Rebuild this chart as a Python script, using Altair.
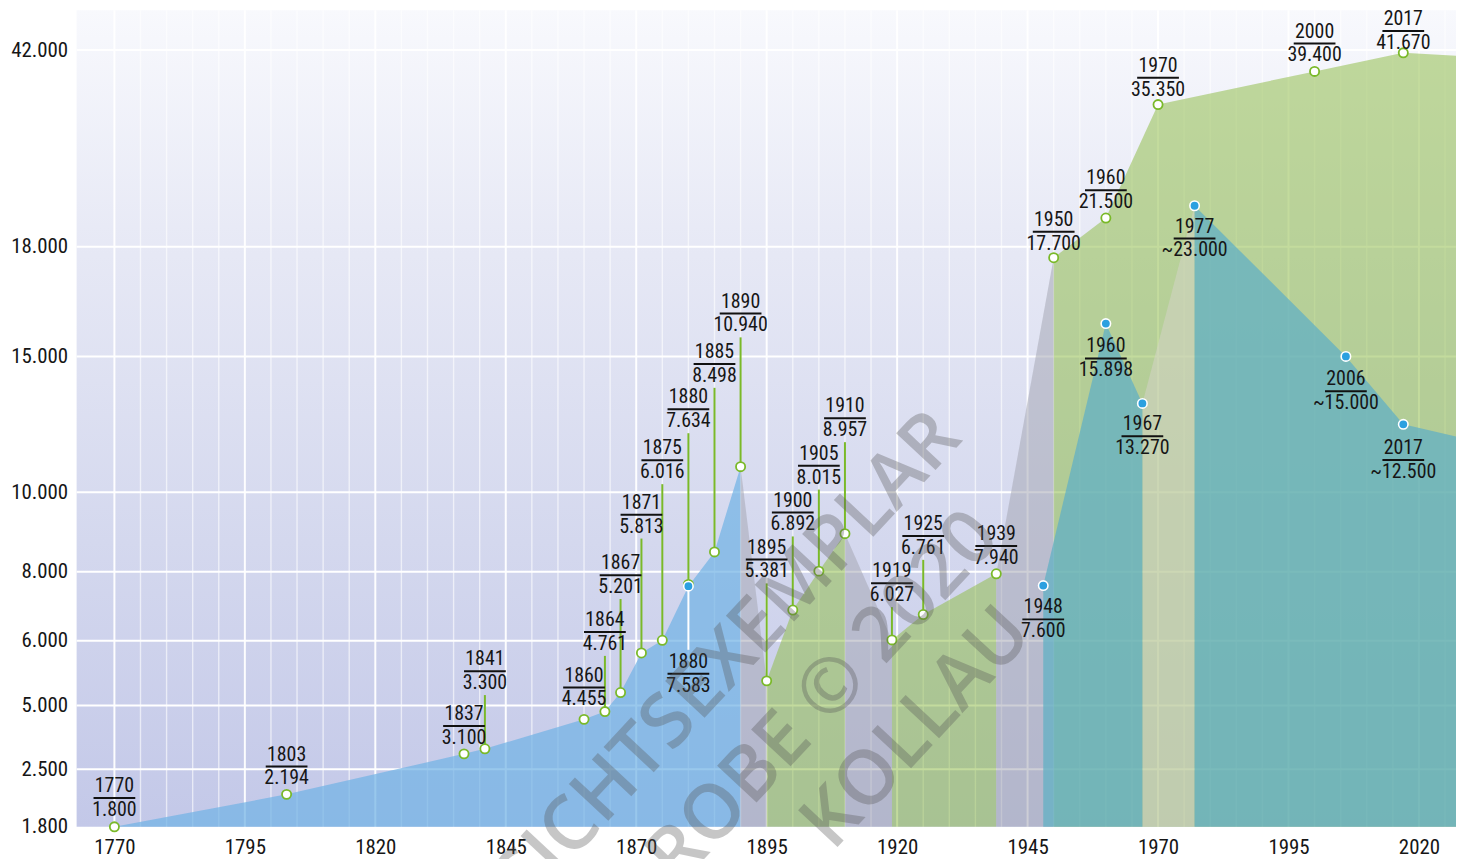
import altair as alt
import numpy as np
import pandas as pd

# ------------------------------------------------------------------ data
# population of the whole (growing) territory - green labelled points
G_YEARS = [1770, 1803, 1837, 1841, 1860, 1864, 1867, 1871, 1875, 1880, 1885, 1890,
           1895, 1900, 1905, 1910, 1919, 1925, 1939, 1950, 1960, 1970, 2000, 2017]
G_VALUES = [1800, 2194, 3100, 3300, 4455, 4761, 5201, 5813, 6016, 7634, 8498, 10940,
            5381, 6892, 8015, 8957, 6027, 6761, 7940, 17700, 21500, 35350, 39400, 41670]

# core town - blue labelled points
B_YEARS = [1880, 1948, 1960, 1967, 1977, 2006, 2017]
B_VALUES = [7583, 7600, 15898, 13270, 23000, 15000, 12500]
B_APPROX = [False, False, False, False, True, True, True]

# filled phases (last point = right edge of the chart)
EDGE_YEAR = 2027.1
BLUE_SEGMENTS = [([1770, 1803, 1837, 1841, 1860, 1864, 1867, 1871, 1875, 1880, 1885, 1890],
                  [1800, 2194, 3100, 3300, 4455, 4761, 5201, 5813, 6016, 7583, 8498, 10940])]
GREEN_SEGMENTS = [([1895, 1900, 1905, 1910], [5381, 6892, 8015, 8957]),
                  ([1919, 1925, 1939], [6027, 6761, 7940]),
                  ([1950, 1960, 1970, 2000, 2017, EDGE_YEAR], [17700, 21500, 35350, 39400, 41670, 41300])]
GRAY_SEGMENTS = [([1890, 1895], [10940, 5381]),
                 ([1910, 1919], [8957, 6027]),
                 ([1939, 1950], [7940, 17700])]
GRAY_LIGHT_SEGMENTS = [([1967, 1977], [13270, 23000])]
TEAL_SEGMENTS = [([1948, 1960, 1967], [7600, 15898, 13270]),
                 ([1977, 2006, 2017, EDGE_YEAR], [23000, 15000, 12500, 12050])]

Y_TICKS = [1800, 2500, 5000, 6000, 8000, 10000, 15000, 18000, 42000]
X_TICKS = [1770, 1795, 1820, 1845, 1870, 1895, 1920, 1945, 1970, 1995, 2020]
GRID_MAJOR = [1770, 1795, 1820, 1845, 1870, 1895, 1920, 1945, 1970, 1995, 2020]
GRID_MINOR = [y for y in range(1770, 2030, 5) if y not in GRID_MAJOR]

WATERMARK = ["ANSICHTSEXEMPLAR", "PROBE © 2020", "KOLLAU"]

# ------------------------------------------------------------------ layout
W, H = 1387, 821
PAD = {"left": 69, "top": 0, "right": 0, "bottom": 30}
X_DOMAIN = [1762.76, EDGE_YEAR]
# piecewise (broken) value axis as in the original
Y_DOMAIN = [1800, 2500, 5000, 6000, 8000, 10000, 15000, 18000, 42000, 46850]
Y_RANGE = [821, 763, 699, 634, 564.5, 484.5, 348, 237.7, 40, 0]

# label placement in pixels (green: value text above point, blue: year text below point)
G_LIFT = [17, 16, 16, 66, 20, 68, 106, 127, 169, 164, 177, 142,
          110, 86, 94, 104, 45, 67, 16, 14, 16, 15, 16, 10]
B_DROP = [76, 22, 23, 21, 21, 23, 24]
WM_POS = [(618, 692), (735, 708), (845, 722)]

FONT = "Liberation Sans Narrow, Roboto Condensed, DejaVu Sans Condensed, Arial Narrow, sans-serif"
TXT = "#161616"
GREEN_LINE = "#7ab929"
BLUE_DOT = "#2ba0e0"


def ypx(v):
    return float(np.interp(v, Y_DOMAIN, Y_RANGE))


def yval(px):
    return float(np.interp(px, Y_RANGE[::-1], Y_DOMAIN[::-1]))


def fmt(v):
    return f"{v:,}".replace(",", ".")


g_rows = []
for yr, v, lift in zip(G_YEARS, G_VALUES, G_LIFT):
    p = ypx(v)
    vc = p - lift
    g_rows.append(dict(year=yr, value=v, ytxt=str(yr), vtxt=fmt(v),
                       val_y=yval(vc), year_y=yval(vc - 24), ul_y=yval(vc - 12),
                       lead_y=yval(vc + 12), lead=lift > 28, x0=yr - 4, x1=yr + 4))
g_df = pd.DataFrame(g_rows)

b_rows = []
for yr, v, drop, apx in zip(B_YEARS, B_VALUES, B_DROP, B_APPROX):
    p = ypx(v)
    yc = p + drop
    b_rows.append(dict(year=yr, value=v, ytxt=str(yr), vtxt=("~" if apx else "") + fmt(v),
                       year_y=yval(yc), ul_y=yval(yc + 12), val_y=yval(yc + 24),
                       lead_y=yval(yc - 12), lead=drop > 40, x0=yr - 4, x1=yr + 4))
b_df = pd.DataFrame(b_rows)


def seg_df(segs):
    rows = []
    for i, (ys, vs) in enumerate(segs):
        for y, v in zip(ys, vs):
            rows.append(dict(seg=i, year=y, value=v))
    return pd.DataFrame(rows)


XS = alt.Scale(domain=X_DOMAIN, nice=False, zero=False)
YS = alt.Scale(domain=Y_DOMAIN, range=Y_RANGE, nice=False, zero=False)
XAX = alt.Axis(values=X_TICKS, format="d", labelFont=FONT, labelFontSize=21, labelColor=TXT,
               domain=False, ticks=False, grid=False, labelPadding=10, labelFlush=False,
               labelOverlap=False, title=None)
YAX = alt.Axis(values=Y_TICKS, labelExpr="replace(format(datum.value, ','), ',', '.')",
               labelFont=FONT, labelFontSize=21, labelColor=TXT, domain=False, ticks=False,
               grid=False, labelPadding=9, labelFlush=False, labelOverlap=False, title=None)


def X(f):
    return alt.X(f, type="quantitative", scale=XS, axis=XAX)


def Y(f):
    return alt.Y(f, type="quantitative", scale=YS, axis=YAX)


one = pd.DataFrame({"k": [0]})

bg = alt.Chart(one).mark_rect(
    color=alt.Gradient(gradient="linear",
                       stops=[alt.GradientStop(color="#f8f9fd", offset=0),
                              alt.GradientStop(color="#e6e8f5", offset=0.3),
                              alt.GradientStop(color="#d4d8ee", offset=0.65),
                              alt.GradientStop(color="#c3c8e8", offset=1)],
                       x1=0, x2=0, y1=0, y2=1)
).encode(x=alt.value(0), x2=alt.value(W), y=alt.value(0), y2=alt.value(H))

vgrid_minor = alt.Chart(pd.DataFrame({"g": GRID_MINOR})).mark_rule(
    color="white", strokeWidth=1.4, opacity=0.6).encode(x=X("g"))
vgrid_major = alt.Chart(pd.DataFrame({"g": GRID_MAJOR})).mark_rule(
    color="white", strokeWidth=2, opacity=0.95).encode(x=X("g"))
hgrid = alt.Chart(pd.DataFrame({"t": Y_TICKS[1:]})).mark_rule(
    color="white", strokeWidth=2).encode(y=Y("t"))


def area_layer(segs, color, opacity):
    return alt.Chart(seg_df(segs)).mark_area(color=color, opacity=opacity).encode(
        x=X("year"), y=Y("value"), y2=alt.datum(1800), detail="seg:N")


blue = area_layer(BLUE_SEGMENTS, "#72b3e4", 0.72)
green = area_layer(GREEN_SEGMENTS, "#91bd4d", 0.55)
gray = area_layer(GRAY_SEGMENTS, "#a6a8b4", 0.55)
teal = area_layer(TEAL_SEGMENTS, "#62b0c4", 0.76)
gray_light = area_layer(GRAY_LIGHT_SEGMENTS, "#d4d4c6", 0.55)

g_lead = alt.Chart(g_df[g_df["lead"]]).mark_rule(color=GREEN_LINE, strokeWidth=2).encode(
    x=X("year"), y=Y("value"), y2="lead_y")
b_lead = alt.Chart(b_df[b_df["lead"]]).mark_rule(color="white", strokeWidth=2).encode(
    x=X("year"), y=Y("value"), y2="lead_y")


def label_layers(df):
    yt = alt.Chart(df).mark_text(font=FONT, fontSize=20, color=TXT, align="center",
                                 baseline="middle").encode(x=X("year"), y=Y("year_y"), text="ytxt:N")
    vt = alt.Chart(df).mark_text(font=FONT, fontSize=20, color=TXT, align="center",
                                 baseline="middle").encode(x=X("year"), y=Y("val_y"), text="vtxt:N")
    ul = alt.Chart(df).mark_rule(color="#111111", strokeWidth=2).encode(
        x=X("x0"), x2="x1", y=Y("ul_y"))
    return [yt, ul, vt]


g_pts = alt.Chart(g_df).mark_point(shape="circle", filled=True, fill="white", stroke=GREEN_LINE,
                                   strokeWidth=1.8, size=85, opacity=1).encode(
    x=X("year"), y=Y("value"))
b_pts = alt.Chart(b_df).mark_point(shape="circle", filled=True, fill=BLUE_DOT, stroke="white",
                                   strokeWidth=1.6, size=90, opacity=1).encode(
    x=X("year"), y=Y("value"))

wm = [alt.Chart(one).mark_text(text=t, angle=313, font="Open Sans", fontSize=76, fontWeight=600,
                               color="#555555", opacity=0.33, align="center", baseline="middle"
                               ).encode(x=alt.value(px), y=alt.value(py))
      for t, (px, py) in zip(WATERMARK, WM_POS)]

layers = [bg, vgrid_minor, vgrid_major, hgrid, blue, green, gray, gray_light, teal,
          g_lead, b_lead, g_pts, b_pts] + label_layers(g_df) + label_layers(b_df) + wm

chart = alt.layer(*layers).properties(
    width=W, height=H, padding=PAD, autosize=alt.AutoSizeParams(type="none"),
    background="white"
).configure_view(stroke=None)

chart.save("out.html", embed_options={"renderer": "svg", "actions": False})
